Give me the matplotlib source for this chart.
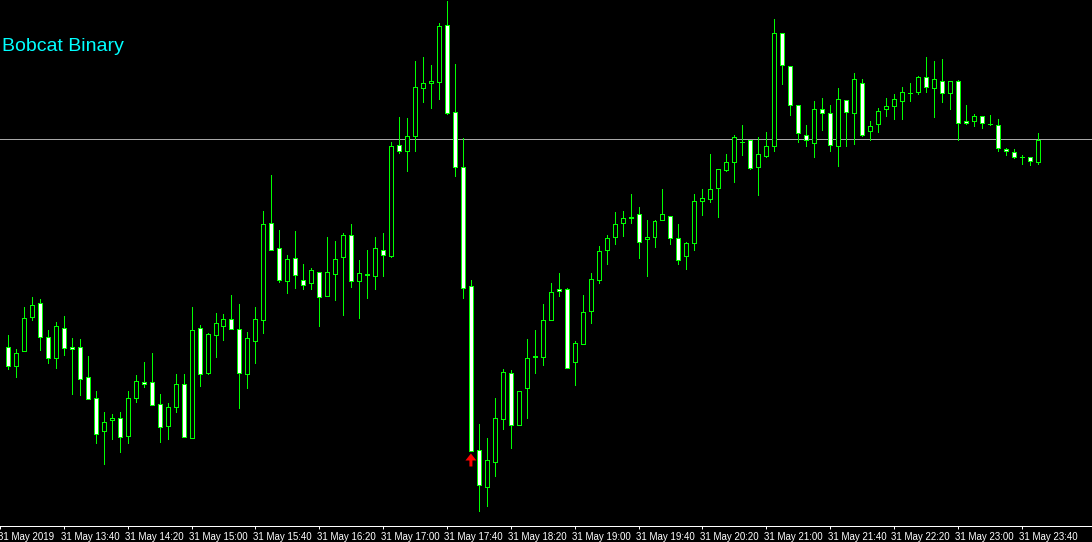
import numpy as np
import matplotlib.pyplot as plt
import matplotlib.transforms as mtransforms
from matplotlib.patches import Rectangle

# M5 candles, 31 May 13:05 .. 23:50
opens = [1.11214, 1.11195, 1.11210, 1.11244, 1.11257, 1.11224, 1.11203, 1.11233, 1.11214, 1.11213,
         1.11183, 1.11162, 1.11130, 1.11141, 1.11143, 1.11125, 1.11163, 1.11179, 1.11179, 1.11156,
         1.11135, 1.11154, 1.11176, 1.11123, 1.11233, 1.11188, 1.11226, 1.11235, 1.11242, 1.11232,
         1.11187, 1.11220, 1.11241, 1.11338, 1.11312, 1.11280, 1.11303, 1.11281, 1.11278, 1.11289,
         1.11265, 1.11287, 1.11304, 1.11326, 1.11280, 1.11286, 1.11285, 1.11311, 1.11305, 1.11416,
         1.11410, 1.11425, 1.11473, 1.11478, 1.11479, 1.11536, 1.11449, 1.11394, 1.11275, 1.11110,
         1.11074, 1.11099, 1.11142, 1.11188, 1.11136, 1.11173, 1.11204, 1.11204, 1.11241, 1.11272,
         1.11272, 1.11199, 1.11217, 1.11250, 1.11281, 1.11311, 1.11324, 1.11338, 1.11343, 1.11347,
         1.11322, 1.11324, 1.11341, 1.11345, 1.11322, 1.11305, 1.11318, 1.11360, 1.11362, 1.11373,
         1.11391, 1.11399, 1.11419, 1.11421, 1.11394, 1.11405, 1.11415, 1.11528, 1.11494, 1.11456,
         1.11426, 1.11418, 1.11452, 1.11448, 1.11415, 1.11461, 1.11448, 1.11477, 1.11430, 1.11437,
         1.11452, 1.11455, 1.11460, 1.11468, 1.11469, 1.11484, 1.11473, 1.11480, 1.11468, 1.11480,
         1.11440, 1.11440, 1.11444, 1.11437, 1.11436, 1.11412, 1.11409, 1.11404, 1.11404, 1.11399]
highs = [1.11226, 1.11212, 1.11254, 1.11264, 1.11262, 1.11231, 1.11239, 1.11245, 1.11223, 1.11222,
         1.11205, 1.11170, 1.11149, 1.11147, 1.11149, 1.11170, 1.11186, 1.11199, 1.11208, 1.11167,
         1.11158, 1.11187, 1.11187, 1.11254, 1.11236, 1.11228, 1.11248, 1.11247, 1.11266, 1.11257,
         1.11229, 1.11254, 1.11350, 1.11386, 1.11331, 1.11306, 1.11330, 1.11297, 1.11293, 1.11289,
         1.11324, 1.11320, 1.11328, 1.11337, 1.11301, 1.11311, 1.11324, 1.11328, 1.11419, 1.11444,
         1.11443, 1.11500, 1.11504, 1.11496, 1.11538, 1.11560, 1.11497, 1.11423, 1.11281, 1.11137,
         1.11123, 1.11163, 1.11192, 1.11191, 1.11170, 1.11222, 1.11231, 1.11257, 1.11278, 1.11288,
         1.11273, 1.11220, 1.11266, 1.11288, 1.11315, 1.11326, 1.11349, 1.11350, 1.11367, 1.11354,
         1.11341, 1.11341, 1.11372, 1.11345, 1.11337, 1.11319, 1.11367, 1.11372, 1.11407, 1.11392,
         1.11407, 1.11426, 1.11436, 1.11421, 1.11424, 1.11429, 1.11542, 1.11528, 1.11494, 1.11456,
         1.11436, 1.11460, 1.11463, 1.11456, 1.11473, 1.11461, 1.11488, 1.11482, 1.11440, 1.11453,
         1.11463, 1.11467, 1.11474, 1.11478, 1.11485, 1.11504, 1.11500, 1.11502, 1.11480, 1.11481,
         1.11456, 1.11447, 1.11444, 1.11446, 1.11442, 1.11413, 1.11412, 1.11406, 1.11404, 1.11428]
lows = [1.11192, 1.11184, 1.11210, 1.11241, 1.11211, 1.11198, 1.11193, 1.11206, 1.11167, 1.11166,
        1.11162, 1.11118, 1.11097, 1.11122, 1.11109, 1.11118, 1.11159, 1.11174, 1.11156, 1.11119,
        1.11122, 1.11149, 1.11124, 1.11123, 1.11175, 1.11187, 1.11204, 1.11221, 1.11232, 1.11153,
        1.11173, 1.11198, 1.11228, 1.11311, 1.11279, 1.11268, 1.11273, 1.11272, 1.11272, 1.11235,
        1.11265, 1.11261, 1.11246, 1.11274, 1.11243, 1.11263, 1.11272, 1.11285, 1.11304, 1.11408,
        1.11390, 1.11410, 1.11459, 1.11453, 1.11462, 1.11447, 1.11385, 1.11263, 1.11110, 1.11050,
        1.11055, 1.11085, 1.11132, 1.11112, 1.11136, 1.11143, 1.11188, 1.11196, 1.11241, 1.11265,
        1.11193, 1.11176, 1.11217, 1.11238, 1.11278, 1.11297, 1.11317, 1.11325, 1.11338, 1.11303,
        1.11285, 1.11314, 1.11341, 1.11317, 1.11297, 1.11292, 1.11311, 1.11346, 1.11359, 1.11344,
        1.11390, 1.11379, 1.11406, 1.11392, 1.11366, 1.11404, 1.11410, 1.11477, 1.11446, 1.11419,
        1.11415, 1.11404, 1.11431, 1.11410, 1.11395, 1.11415, 1.11417, 1.11425, 1.11421, 1.11429,
        1.11445, 1.11442, 1.11442, 1.11460, 1.11467, 1.11469, 1.11444, 1.11459, 1.11452, 1.11421,
        1.11437, 1.11435, 1.11433, 1.11436, 1.11410, 1.11406, 1.11403, 1.11397, 1.11396, 1.11397]
closes = [1.11195, 1.11208, 1.11243, 1.11256, 1.11224, 1.11203, 1.11235, 1.11213, 1.11212, 1.11182,
          1.11162, 1.11127, 1.11139, 1.11142, 1.11124, 1.11163, 1.11180, 1.11177, 1.11156, 1.11134,
          1.11154, 1.11177, 1.11124, 1.11231, 1.11187, 1.11226, 1.11237, 1.11242, 1.11232, 1.11188,
          1.11223, 1.11242, 1.11337, 1.11311, 1.11281, 1.11301, 1.11286, 1.11276, 1.11291, 1.11264,
          1.11289, 1.11301, 1.11325, 1.11280, 1.11287, 1.11287, 1.11312, 1.11306, 1.11415, 1.11410,
          1.11425, 1.11474, 1.11477, 1.11480, 1.11535, 1.11448, 1.11394, 1.11273, 1.11110, 1.11076,
          1.11101, 1.11142, 1.11189, 1.11136, 1.11169, 1.11203, 1.11205, 1.11241, 1.11269, 1.11270,
          1.11193, 1.11217, 1.11249, 1.11281, 1.11310, 1.11323, 1.11337, 1.11343, 1.11344, 1.11319,
          1.11324, 1.11340, 1.11347, 1.11323, 1.11301, 1.11318, 1.11360, 1.11363, 1.11372, 1.11392,
          1.11399, 1.11423, 1.11419, 1.11393, 1.11407, 1.11415, 1.11528, 1.11496, 1.11456, 1.11428,
          1.11421, 1.11452, 1.11448, 1.11416, 1.11462, 1.11449, 1.11481, 1.11426, 1.11435, 1.11450,
          1.11455, 1.11461, 1.11469, 1.11468, 1.11484, 1.11474, 1.11481, 1.11468, 1.11480, 1.11438,
          1.11438, 1.11444, 1.11438, 1.11437, 1.11413, 1.11410, 1.11404, 1.11404, 1.11400, 1.11421]

tick_pos = [-1, 7, 15, 23, 31, 39, 47, 55, 63, 71, 79, 87, 95, 103, 111, 119, 127]
tick_labels = ['31 May 2019', '31 May 13:40', '31 May 14:20', '31 May 15:00', '31 May 15:40',
               '31 May 16:20', '31 May 17:00', '31 May 17:40', '31 May 18:20', '31 May 19:00',
               '31 May 19:40', '31 May 20:20', '31 May 21:00', '31 May 21:40', '31 May 22:20',
               '31 May 23:00', '31 May 23:40']
bid_line = 1.11422
arrow_bars = [58]

px = 0.72  # one pixel in points at dpi 100
green = '#00ff00'

fig = plt.figure(figsize=(10.92, 5.42), dpi=100, facecolor='black')
ax = fig.add_axes([0, 16 / 542, 1, 526 / 542], facecolor='black')

x = np.arange(len(opens))
ax.vlines(x, lows, highs, color=green, lw=px, zorder=2, antialiased=False)
for i in x:
    o, c = opens[i], closes[i]
    fill = 'white' if c < o else 'black'
    ax.add_patch(Rectangle((i - 0.25, min(o, c)), 0.5, abs(c - o),
                           facecolor=fill, edgecolor=green, lw=px, zorder=3,
                           antialiased=False))

ax.axhline(bid_line, color='#a8a8a8', lw=px, zorder=1, antialiased=False)

for b in arrow_bars:
    tip = lows[b] - 0.00003
    ax.arrow(b, tip - 0.00013, 0, 0.00013, width=0.375, head_width=1.375,
             head_length=0.00007, length_includes_head=True, color='red', lw=0, zorder=4)

ax.set_xlim(-5.5 / 8, (1092 - 5.5) / 8)
ax.set_ylim(1.110345, 1.115605)

for s in ['top', 'left', 'right']:
    ax.spines[s].set_visible(False)
ax.spines['bottom'].set_color('white')
ax.spines['bottom'].set_linewidth(px)
ax.set_yticks([])
ax.set_xticks(tick_pos, tick_labels)
ax.tick_params(axis='x', colors='white', direction='out', length=2.5, width=px,
               pad=1.5, labelsize=7)
shift = mtransforms.ScaledTranslation(-2.5 / 100, 0, fig.dpi_scale_trans)
for t in ax.get_xticklabels():
    t.set_ha('left')
    t.set_family('Liberation Sans')
    t.set_transform(t.get_transform() + shift)

fig.text(2 / 1092, 1 - 51 / 542, 'Bobcat Binary', color='#00ffff', fontsize=14,
         family='Liberation Sans', va='baseline')

fig.savefig('out.png', dpi=100, facecolor='black')
